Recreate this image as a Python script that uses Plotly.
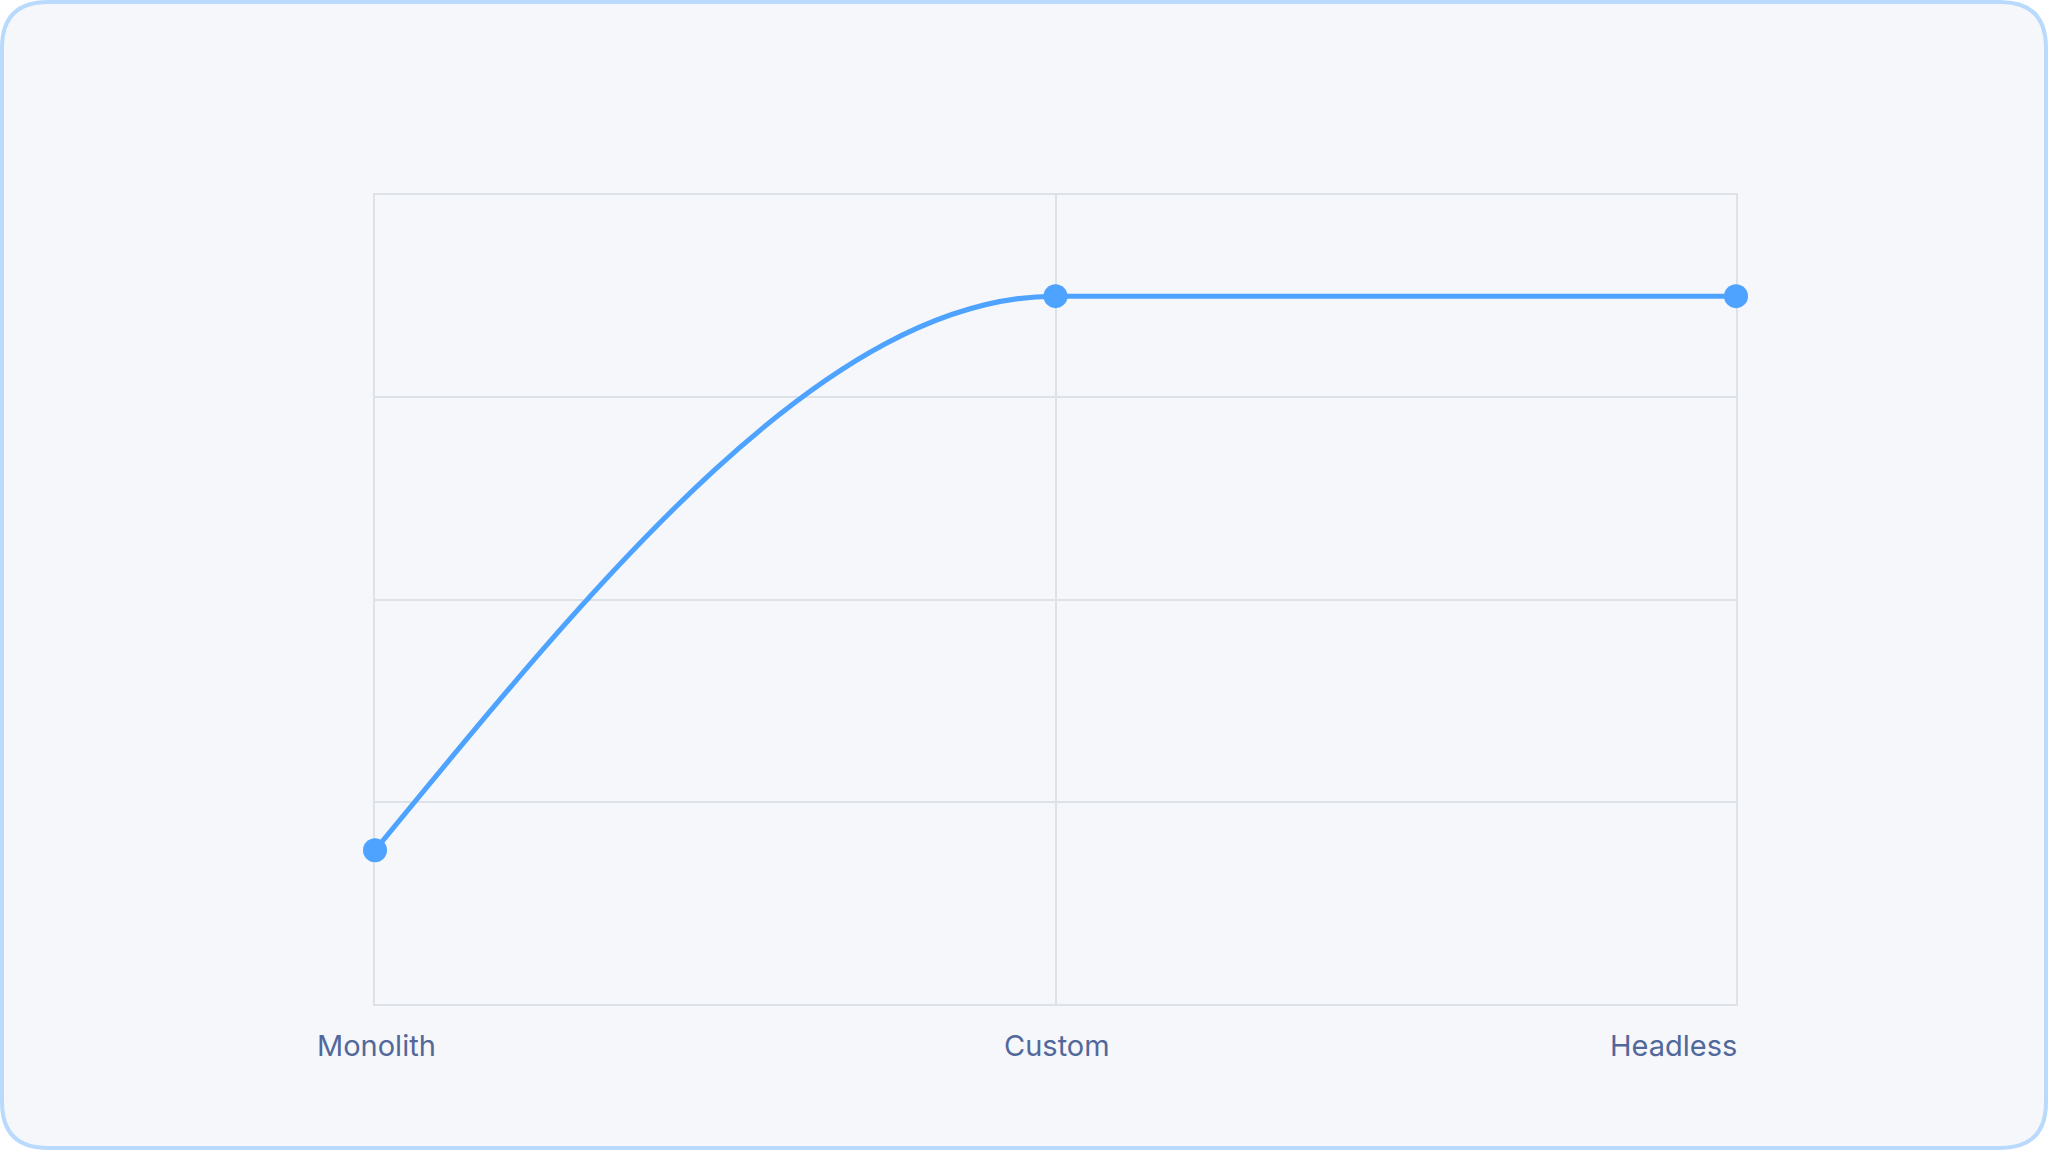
import plotly.graph_objects as go

# chart data (y axis has no labels, values read as share of a 0-100 scale)
stages = ["Monolith", "Custom", "Headless"]
stage_pos = [0, 1, 2]
values = [19, 87.5, 87.5]
y_ticks = [0, 25, 50, 75, 100]

W, H = 2048, 1150
margin = dict(l=375, r=312, t=195, b=146)
plot_w = W - margin["l"] - margin["r"]
plot_h = H - margin["t"] - margin["b"]

grid_color = "#dde1e8"
line_color = "#4da3ff"
text_color = "#52689a"


def monotone_path(xs, ys):
    # monotone-x cubic curve (same rule as d3 curveMonotoneX), as an svg path in data units
    n = len(xs)
    h = [xs[i + 1] - xs[i] for i in range(n - 1)]
    s = [(ys[i + 1] - ys[i]) / h[i] for i in range(n - 1)]
    t = [0.0] * n
    for i in range(1, n - 1):
        if s[i - 1] * s[i] <= 0:
            t[i] = 0.0
        else:
            p = (s[i - 1] * h[i] + s[i] * h[i - 1]) / (h[i - 1] + h[i])
            t[i] = (1 if s[i - 1] > 0 else -1) * min(abs(s[i - 1]), abs(s[i]), 0.5 * abs(p)) * 2
    t[0] = (3 * s[0] - t[1]) / 2 if n > 2 else s[0]
    t[-1] = (3 * s[-1] - t[-2]) / 2 if n > 2 else s[-1]
    path = f"M {xs[0]},{ys[0]}"
    for i in range(n - 1):
        dx = h[i] / 3
        path += (f" C {xs[i] + dx},{ys[i] + dx * t[i]} "
                 f"{xs[i + 1] - dx},{ys[i + 1] - dx * t[i + 1]} {xs[i + 1]},{ys[i + 1]}")
    return path


fig = go.Figure()

# smooth line through the points
fig.add_shape(type="path", path=monotone_path(stage_pos, values), xref="x", yref="y",
              line=dict(color=line_color, width=5), layer="above")

fig.add_trace(go.Scatter(
    x=stage_pos,
    y=values,
    mode="markers",
    marker=dict(color=line_color, size=24),
    hovertext=stages,
    hoverinfo="text+y",
    cliponaxis=False,
    showlegend=False,
))


# rounded card behind the chart, in paper units
def px_x(p):
    return (p - margin["l"]) / plot_w


def px_y(p):
    return (H - margin["b"] - p) / plot_h


r = 46
x0, x1, y0, y1 = 2, W - 2, 2, H - 2
card = (
    f"M {px_x(x0 + r)},{px_y(y0)} L {px_x(x1 - r)},{px_y(y0)} "
    f"Q {px_x(x1)},{px_y(y0)} {px_x(x1)},{px_y(y0 + r)} "
    f"L {px_x(x1)},{px_y(y1 - r)} Q {px_x(x1)},{px_y(y1)} {px_x(x1 - r)},{px_y(y1)} "
    f"L {px_x(x0 + r)},{px_y(y1)} Q {px_x(x0)},{px_y(y1)} {px_x(x0)},{px_y(y1 - r)} "
    f"L {px_x(x0)},{px_y(y0 + r)} Q {px_x(x0)},{px_y(y0)} {px_x(x0 + r)},{px_y(y0)} Z"
)
fig.add_shape(type="path", path=card, xref="paper", yref="paper",
              fillcolor="#f5f7fa", line=dict(color="#b9dafc", width=4), layer="below")

# stage labels under the plot, Headless aligned to the right edge
anchors = ["center", "center", "right"]
for pos, name, anc in zip(stage_pos, stages, anchors):
    fig.add_annotation(x=pos, y=0, yref="paper", text=name, showarrow=False,
                       xanchor=anc, yanchor="top", yshift=-22, xshift=3 if anc == "right" else 1,
                       font=dict(family="Inter, Noto Sans, sans-serif", size=29, color=text_color))

axis_style = dict(showticklabels=False, showgrid=True, gridcolor=grid_color, gridwidth=2,
                  showline=True, linecolor=grid_color, linewidth=2, mirror=True,
                  zeroline=False, fixedrange=True, layer="below traces")

fig.update_layout(
    width=W,
    height=H,
    margin=margin,
    paper_bgcolor="white",
    plot_bgcolor="rgba(0,0,0,0)",
    xaxis=dict(range=[0, 2], tickvals=stage_pos, **axis_style),
    yaxis=dict(range=[0, 100], tickvals=y_ticks, **axis_style),
)

fig.write_html("out.html", config={"displayModeBar": False},
               post_script="document.body.style.margin='0';document.body.style.overflow='hidden';")
